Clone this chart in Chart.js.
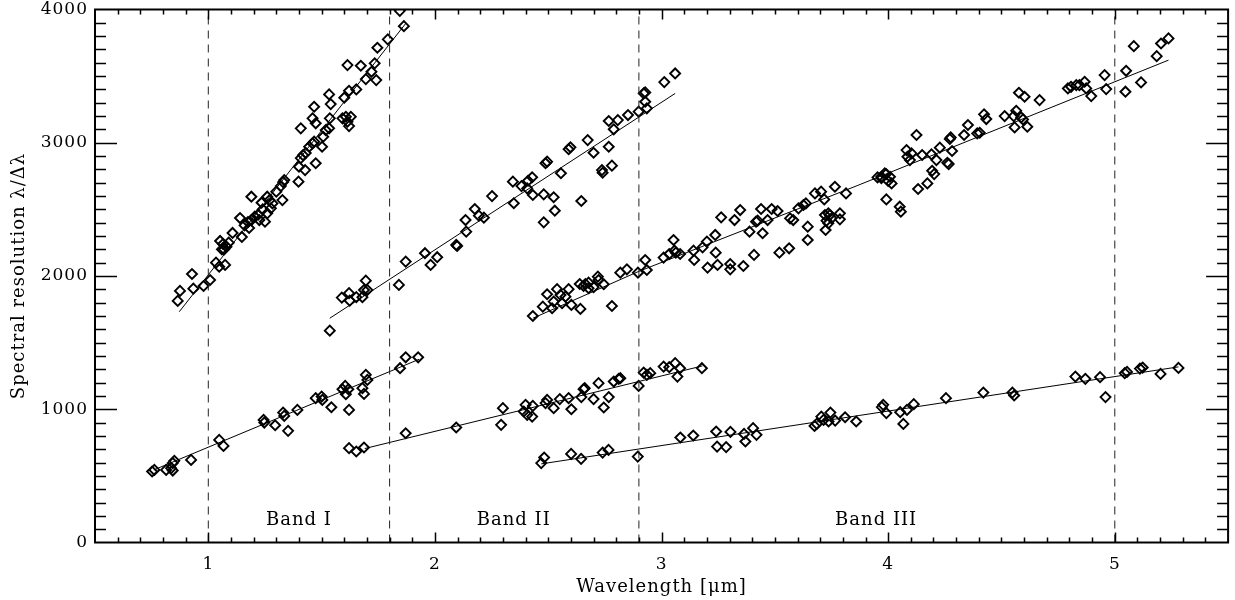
<!DOCTYPE html>
<html>
<head>
<meta charset="utf-8">
<script src="https://cdn.jsdelivr.net/npm/chart.js@4.4.1/dist/chart.umd.min.js"></script>
<style>
  html, body { margin: 0; padding: 0; background: #fff; }
  #wrap { width: 1235px; height: 600px; position: relative; }
</style>
</head>
<body>
<div id="wrap"><canvas id="c"></canvas></div>
<script>
// ---------------- data (wavelength [um], resolution) ----------------
const band1HighPts = [[0.865,1813],[0.875,1888],[0.928,2015],[0.934,1905],[0.979,1925],[1.008,1970],[1.034,2100],[1.048,2070],[1.052,2263],[1.06,2200],[1.065,2240],[1.07,2200],[1.08,2220],[1.09,2250],[1.074,2083],[1.107,2323],[1.14,2435],[1.148,2293],[1.16,2380],[1.175,2405],[1.18,2360],[1.19,2420],[1.19,2595],[1.205,2445],[1.22,2460],[1.225,2420],[1.235,2550],[1.24,2500],[1.26,2470],[1.25,2408],[1.26,2595],[1.27,2570],[1.283,2545],[1.276,2508],[1.30,2633],[1.32,2675],[1.33,2705],[1.335,2720],[1.327,2570],[1.398,2708],[1.40,2820],[1.408,2885],[1.418,2907],[1.43,2923],[1.445,2970],[1.46,2995],[1.467,3008],[1.427,2795],[1.474,2846],[1.502,2970],[1.507,3045],[1.408,3108],[1.46,3183],[1.474,3146],[1.518,3095],[1.533,3108],[1.536,3183],[1.467,3270],[1.533,3363],[1.54,3290],[1.592,3183],[1.607,3195],[1.629,3195],[1.614,3158],[1.621,3125],[1.60,3338],[1.621,3390],[1.614,3583],[1.653,3400],[1.673,3578],[1.695,3478],[1.72,3533],[1.734,3596],[1.741,3470],[1.746,3713],[1.792,3776],[1.845,3990],[1.863,3875]];
const band1LowPts = [[0.752,533],[0.762,545],[0.814,545],[0.836,558],[0.843,540],[0.85,613],[0.843,596],[0.924,620],[1.048,770],[1.067,725],[1.244,920],[1.247,900],[1.295,880],[1.33,975],[1.335,950],[1.352,838],[1.393,995],[1.474,1083],[1.50,1095],[1.503,1070],[1.543,1015],[1.592,1150],[1.607,1113],[1.604,1175],[1.618,1150],[1.621,995],[1.68,1158],[1.687,1115],[1.695,1258],[1.702,1220],[1.846,1308],[1.871,1390],[1.926,1390]];
const band2HighPts = [[1.536,1590],[1.589,1838],[1.621,1871],[1.624,1815],[1.653,1841],[1.68,1841],[1.687,1895],[1.695,1965],[1.702,1895],[1.841,1933],[1.871,2108],[1.956,2171],[1.981,2083],[2.01,2141],[2.094,2233],[2.098,2225],[2.135,2420],[2.138,2333],[2.176,2503],[2.194,2453],[2.216,2438],[2.252,2600],[2.348,2546],[2.344,2708],[2.382,2675],[2.407,2658],[2.411,2715],[2.429,2741],[2.432,2608],[2.48,2613],[2.48,2403],[2.488,2846],[2.495,2858],[2.524,2591],[2.529,2490],[2.556,2771],[2.59,2951],[2.598,2966],[2.646,2563],[2.674,3020],[2.70,2925],[2.737,2795],[2.74,2775],[2.767,2970],[2.781,2828],[2.767,3163],[2.789,3101],[2.807,3170],[2.852,3208],[2.899,3233],[2.921,3371],[2.928,3378],[2.928,3308],[2.935,3258],[3.012,3455],[3.06,3520]];
const band2LowPts = [[1.621,708],[1.653,683],[1.687,713],[1.871,820],[2.094,863],[2.30,1008],[2.292,883],[2.40,1033],[2.392,983],[2.407,958],[2.429,945],[2.432,1025],[2.488,1046],[2.495,1070],[2.524,1008],[2.551,1076],[2.59,1083],[2.602,1000],[2.646,1091],[2.656,1151],[2.661,1158],[2.70,1076],[2.722,1196],[2.745,1013],[2.767,1091],[2.789,1208],[2.811,1228],[2.818,1233],[2.899,1175],[2.921,1275],[2.935,1258],[2.95,1271],[3.009,1320],[3.034,1316],[3.06,1346],[3.07,1245],[3.082,1308],[3.178,1308]];
const band3HighPts = [[2.432,1700],[2.476,1770],[2.495,1863],[2.517,1758],[2.524,1808],[2.539,1901],[2.554,1858],[2.561,1796],[2.576,1845],[2.59,1901],[2.602,1783],[2.642,1753],[2.639,1940],[2.656,1925],[2.664,1940],[2.678,1908],[2.678,1950],[2.70,1916],[2.719,1995],[2.722,1970],[2.745,1938],[2.781,1775],[2.818,2025],[2.847,2050],[2.896,2025],[2.928,2120],[2.935,2045],[3.009,2138],[3.034,2165],[3.053,2270],[3.057,2190],[3.063,2175],[3.082,2165],[3.141,2190],[3.144,2120],[3.181,2215],[3.20,2258],[3.203,2063],[3.239,2175],[3.237,2308],[3.247,2083],[3.263,2440],[3.303,2090],[3.303,2050],[3.322,2420],[3.347,2495],[3.361,2075],[3.388,2333],[3.408,2158],[3.417,2408],[3.424,2415],[3.439,2503],[3.446,2321],[3.468,2420],[3.486,2503],[3.512,2488],[3.52,2175],[3.563,2208],[3.567,2433],[3.581,2420],[3.604,2508],[3.626,2533],[3.637,2545],[3.645,2370],[3.645,2270],[3.677,2620],[3.704,2633],[3.718,2575],[3.721,2458],[3.736,2470],[3.743,2458],[3.728,2415],[3.736,2395],[3.75,2433],[3.787,2470],[3.787,2425],[3.724,2345],[3.765,2670],[3.814,2620],[3.953,2740],[3.97,2735],[3.991,2765],[4.0,2713],[4.015,2695],[4.008,2745],[3.97,2745],[3.985,2770],[3.992,2575],[4.051,2520],[4.056,2483],[4.081,2945],[4.085,2895],[4.096,2870],[4.103,2920],[4.125,3058],[4.132,2653],[4.15,2908],[4.173,2695],[4.191,2913],[4.194,2790],[4.203,2765],[4.213,2870],[4.228,2963],[4.261,2850],[4.267,2840],[4.272,3028],[4.276,3040],[4.282,2938],[4.335,3058],[4.352,3133],[4.393,3070],[4.404,3075],[4.423,3213],[4.433,3178],[4.514,3200],[4.558,3115],[4.554,3200],[4.565,3240],[4.587,3190],[4.595,3175],[4.614,3120],[4.577,3375],[4.602,3345],[4.668,3320],[4.793,3408],[4.807,3420],[4.83,3433],[4.844,3433],[4.867,3458],[4.874,3408],[4.896,3350],[4.955,3508],[4.962,3403],[5.05,3540],[5.047,3383],[5.084,3725],[5.116,3453],[5.185,3650],[5.204,3745],[5.237,3783]];
const band3LowPts = [[2.469,596],[2.482,638],[2.601,665],[2.645,628],[2.74,675],[2.766,695],[2.895,645],[3.083,788],[3.14,803],[3.241,833],[3.245,720],[3.285,716],[3.304,830],[3.364,815],[3.37,758],[3.404,858],[3.419,808],[3.675,875],[3.685,890],[3.705,945],[3.715,920],[3.737,908],[3.745,975],[3.766,915],[3.81,940],[3.859,908],[3.972,1016],[3.978,1033],[3.992,971],[4.053,978],[4.067,890],[4.083,995],[4.113,1038],[4.255,1083],[4.42,1125],[4.548,1125],[4.556,1103],[4.826,1245],[4.87,1228],[4.935,1241],[4.959,1091],[5.044,1271],[5.054,1280],[5.111,1305],[5.123,1313],[5.202,1265],[5.281,1310]];

// fitted relations
const band1HighFit = [[0.872,1732],[1.871,3895]];
const band1LowFit  = [[0.76,545],[1.93,1375]];
const band2HighFit = [[1.536,1683],[3.060,3370]];
const band2LowFit  = [[1.69,705],[3.18,1325]];
const band3HighFit = [[2.432,1683],[2.9,2035],[3.863,2678],[5.237,3620]];
const band3LowFit  = [[2.469,590],[5.281,1318]];

// band boundaries and labels
const bandEdges = [1.0, 1.8, 2.9, 5.0];
const bandNames = ['Band I', 'Band II', 'Band III'];
const bandNameX = [1.40, 2.348, 3.947];
const bandNameY = 163;

// axes
const xTicks = [1, 2, 3, 4, 5];
const yTicks = [0, 1000, 2000, 3000, 4000];
const xRange = [0.5, 5.5];
const yRange = [0, 4000];
const xMinorStep = 0.1;
const yMinorStep = 100;

// ---------------- chart ----------------
const FONT = "'DejaVu Serif', 'Liberation Serif', serif";
const toXY = arr => arr.map(p => ({x: p[0], y: p[1]}));

function pointSet(pts) {
  return {
    data: toXY(pts), showLine: false,
    pointStyle: 'rectRot', pointRadius: 5, pointBorderWidth: 1.9,
    pointBorderColor: '#000', pointBackgroundColor: 'rgba(0,0,0,0)'
  };
}
function fitSet(pts) {
  return { data: toXY(pts), showLine: true, borderColor: '#000', borderWidth: 1, pointRadius: 0, fill: false };
}
function edgeSet(xv) {
  return { data: [{x: xv, y: yRange[0]}, {x: xv, y: yRange[1]}], showLine: true,
    borderColor: '#222', borderWidth: 1, borderDash: [8, 6], pointRadius: 0, fill: false };
}

const datasets = [];
bandEdges.forEach(e => datasets.push(edgeSet(e)));
[band1HighFit, band1LowFit, band2HighFit, band2LowFit, band3HighFit, band3LowFit].forEach(f => datasets.push(fitSet(f)));
[band1HighPts, band1LowPts, band2HighPts, band2LowPts, band3HighPts, band3LowPts].forEach(p => datasets.push(pointSet(p)));

const spacing = {
  id: 'spacing',
  beforeDraw(chart) { chart.ctx.letterSpacing = '1px'; }
};

const frame = {
  id: 'frame',
  afterDatasetsDraw(chart) {
    const {ctx, chartArea: a, scales: {x, y}} = chart;
    ctx.save();
    ctx.strokeStyle = '#000';
    ctx.lineWidth = 1.5;
    ctx.beginPath();
    const nx = Math.round((xRange[1] - xRange[0]) / xMinorStep);
    for (let i = 1; i < nx; i++) {
      const v = xRange[0] + i * xMinorStep;
      const major = xTicks.some(t => Math.abs(t - v) < 1e-6);
      const len = major ? 10 : 5;
      const px = Math.round(x.getPixelForValue(v)) + 0.5;
      ctx.moveTo(px, a.bottom); ctx.lineTo(px, a.bottom - len);
      ctx.moveTo(px, a.top); ctx.lineTo(px, a.top + len);
    }
    const ny = Math.round((yRange[1] - yRange[0]) / yMinorStep);
    for (let i = 1; i < ny; i++) {
      const v = yRange[0] + i * yMinorStep;
      const major = yTicks.some(t => Math.abs(t - v) < 1e-6);
      const len = major ? 22 : 11;
      const py = Math.round(y.getPixelForValue(v)) + 0.5;
      ctx.moveTo(a.left, py); ctx.lineTo(a.left + len, py);
      ctx.moveTo(a.right, py); ctx.lineTo(a.right - len, py);
    }
    ctx.stroke();
    ctx.lineWidth = 2;
    ctx.strokeRect(a.left, a.top, a.right - a.left, a.bottom - a.top);

    ctx.fillStyle = '#000';
    ctx.font = "18px " + FONT;
    ctx.letterSpacing = '1px';
    ctx.textAlign = 'center';
    ctx.textBaseline = 'middle';
    bandNames.forEach((n, i) => {
      ctx.fillText(n, x.getPixelForValue(bandNameX[i]), y.getPixelForValue(bandNameY));
    });
    ctx.restore();
  }
};

new Chart(document.getElementById('c'), {
  type: 'scatter',
  data: { datasets },
  plugins: [spacing, frame],
  options: {
    responsive: true, maintainAspectRatio: false, animation: false, events: [],
    layout: { padding: { left: 0, right: 5, top: 9.5, bottom: 0 } },
    plugins: { legend: { display: false }, tooltip: { enabled: false } },
    scales: {
      x: {
        type: 'linear', min: xRange[0], max: xRange[1],
        grid: { display: false, drawTicks: false },
        border: { display: false },
        afterBuildTicks: s => { s.ticks = xTicks.map(v => ({value: v})); },
        ticks: { color: '#000', padding: 12, font: { family: FONT, size: 17 }, maxRotation: 0,
          callback: v => String(v) },
        title: { display: true, text: 'Wavelength [μm]', color: '#000',
          font: { family: FONT, size: 18 }, padding: { top: 0, bottom: 2 } },
        afterFit: s => { s.height = 57.5; s.paddingLeft = 0; s.paddingRight = 0; }
      },
      y: {
        type: 'linear', min: yRange[0], max: yRange[1],
        grid: { display: false, drawTicks: false },
        border: { display: false },
        afterBuildTicks: s => { s.ticks = yTicks.map(v => ({value: v})); },
        ticks: { color: '#000', padding: 7, font: { family: FONT, size: 17 },
          callback: v => String(v) },
        title: { display: true, text: 'Spectral resolution λ/Δλ', color: '#000',
          font: { family: FONT, size: 18 }, padding: { top: 9, bottom: 0 } },
        afterFit: s => { s.width = 95; s.paddingTop = 0; s.paddingBottom = 0; }
      }
    }
  }
});
</script>
</body>
</html>
